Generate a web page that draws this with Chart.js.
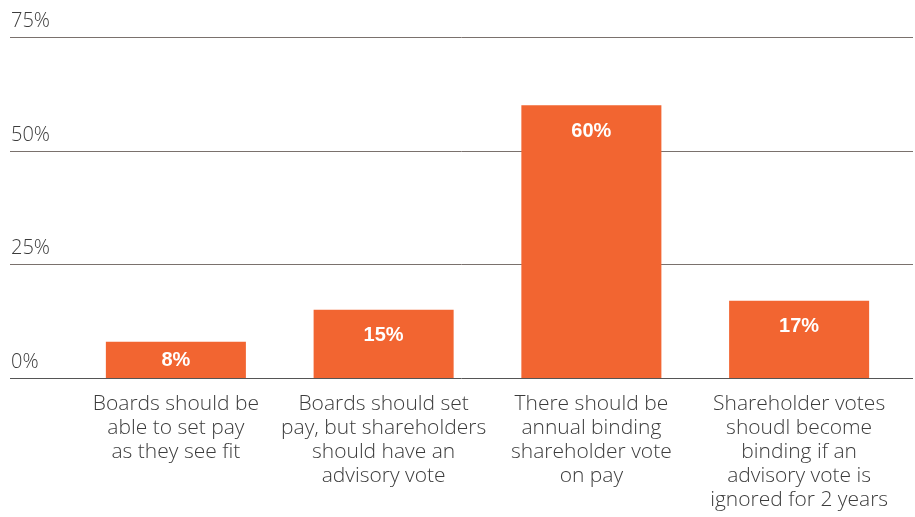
<!DOCTYPE html>
<html><head><meta charset="utf-8">
<script src="https://cdn.jsdelivr.net/npm/chart.js@4"></script>
<style>html,body{margin:0;padding:0;background:#fff}#wrap{width:915px;height:517px}</style>
</head><body><div id="wrap"><canvas id="c" width="915" height="517"></canvas></div>
<script>
const categories = [
  ["Boards should be", "able to set pay", "as they see fit"],
  ["Boards should set", "pay, but shareholders", "should have an", "advisory vote"],
  ["There should be", "annual binding", "shareholder vote", "on pay"],
  ["Shareholder votes", "shoudl become", "binding if an", "advisory vote is", "ignored for 2 years"]
];
const values = [8, 15, 60, 17];
const valueLabels = ["8%", "15%", "60%", "17%"];
const yTicks = [0, 25, 50, 75];
const yTickLabels = ["0%", "25%", "50%", "75%"];

const FONT = "'Liberation Sans', Arial, sans-serif";
const XFONT = "'Open Sans', 'Liberation Sans', sans-serif";

const gridPlugin = {
  id: 'gridPlugin',
  beforeDatasetsDraw(chart) {
    const ctx = chart.ctx, y = chart.scales.y;
    ctx.save();
    yTicks.forEach((t, i) => {
      const py = Math.round(y.getPixelForValue(t)) + 0.5;
      ctx.strokeStyle = t === 0 ? '#555' : '#7a716d';
      ctx.lineWidth = 1;
      ctx.beginPath(); ctx.moveTo(10, py); ctx.lineTo(913, py); ctx.stroke();
      ctx.fillStyle = '#3c3c3c';
      ctx.font = "300 20px " + XFONT;
      ctx.textAlign = 'left'; ctx.textBaseline = 'alphabetic';
      ctx.fillText(yTickLabels[i], 11, py - 11);
    });
    ctx.restore();
  },
  afterDatasetsDraw(chart) {
    const ctx = chart.ctx, meta = chart.getDatasetMeta(0);
    ctx.save();
    ctx.fillStyle = '#fff';
    ctx.font = "bold 20px " + FONT;
    ctx.textAlign = 'center'; ctx.textBaseline = 'middle';
    meta.data.forEach((bar, i) => {
      const cy = Math.min(bar.y + 26, (bar.y + bar.base) / 2 + 1);
      ctx.fillText(valueLabels[i], bar.x, cy);
    });
    ctx.restore();
  }
};

new Chart(document.getElementById('c'), {
  type: 'bar',
  data: {
    labels: categories,
    datasets: [{ data: values, backgroundColor: '#F26531', borderWidth: 0, barPercentage: 0.674, categoryPercentage: 1 }]
  },
  options: {
    responsive: false,
    animation: false,
    layout: { padding: { left: 72, right: 12, top: 37, bottom: 0 } },
    plugins: { legend: { display: false }, tooltip: { enabled: false } },
    scales: {
      y: { display: false, min: 0, max: 75 },
      x: {
        grid: { display: false, drawTicks: false },
        border: { display: false },
        ticks: { padding: 14, color: '#3c3c3c', font: { family: XFONT, size: 21, weight: '300', lineHeight: 1.143 }, maxRotation: 0, autoSkip: false },
        afterFit(scale) { scale.height = 139; }
      }
    }
  },
  plugins: [gridPlugin]
});
</script></body></html>
